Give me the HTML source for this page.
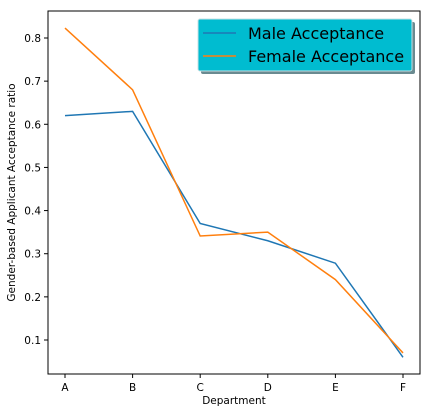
<!DOCTYPE html>
<html><head><meta charset="utf-8"><style>
html,body{margin:0;padding:0;background:#fff;}
svg{display:block;font-family:"DejaVu Sans","Liberation Sans",sans-serif;}
</style></head><body>
<svg id="chart" width="431" height="414" viewBox="0 0 431 414"></svg>
<script>
const categories=["A","B","C","D","E","F"];
const maleValues=[0.62,0.63,0.37,0.33,0.278,0.06];
const femaleValues=[0.823,0.68,0.341,0.35,0.24,0.07];
const yTicks=[0.1,0.2,0.3,0.4,0.5,0.6,0.7,0.8];
const yTickLabels=["0.1","0.2","0.3","0.4","0.5","0.6","0.7","0.8"];
const NS="http://www.w3.org/2000/svg";
const svg=document.getElementById('chart');
const L=48,R=420,T=11,B=374;
function x(i){return 65+i*(403-65)/(categories.length-1);}
function y(v){return 340-(v-0.1)*(340-38)/0.7;}
function mk(t,a,p){const e=document.createElementNS(NS,t);for(const k in a)e.setAttribute(k,a[k]);(p||svg).appendChild(e);return e;}
const frame=mk('rect',{x:L,y:T,width:R-L,height:B-T,fill:'none',stroke:'#000','stroke-width':1});


yTicks.forEach((v,i)=>{
  const tk=mk('line',{x1:L-4,x2:L,y1:y(v),y2:y(v),stroke:'#000'});
  
  
  const t=mk('text',{x:L-7,y:y(v)+4,'text-anchor':'end','font-size':10.5,fill:'#000'});
  t.textContent=yTickLabels[i];
  
  
});
categories.forEach((c,i)=>{
  const tk=mk('line',{x1:x(i),x2:x(i),y1:B,y2:B+4,stroke:'#000'});
  
  
  const t=mk('text',{x:x(i),y:B+17,'text-anchor':'middle','font-size':10.5,fill:'#000'});
  t.textContent=c;
  
  
});
function series(vals,color,name){
  const p=mk('polyline',{points:vals.map((v,i)=>x(i)+','+y(v)).join(' '),fill:'none',stroke:color,'stroke-width':1.5});
  
  
}
series(maleValues,'#1f77b4','male-acceptance-line');
series(femaleValues,'#ff7f0e','female-acceptance-line');
const xt=mk('text',{x:(L+R)/2,y:404,'text-anchor':'middle','font-size':10.5});
xt.textContent='Department';


const yt=mk('text',{x:0,y:0,'text-anchor':'middle','font-size':10.5,transform:'translate(15,'+((T+B)/2)+') rotate(-90)'});
yt.textContent='Gender-based Applicant Acceptance ratio';


const lg=mk('g',{});


mk('rect',{x:201,y:22,width:214,height:52,rx:2,fill:'#6a8a90'},lg);
mk('rect',{x:198,y:19,width:214,height:52,rx:2,fill:'#00bcd0',stroke:'#c8e0e4','stroke-width':1},lg);
[['Male Acceptance','#1f77b4',43],['Female Acceptance','#ff7f0e',66]].forEach(([n,c,yy])=>{
  const li=mk('line',{x1:203,x2:236,y1:yy-10,y2:yy-10,stroke:c,'stroke-width':1.5},lg);
  
  
  const t=mk('text',{x:248,y:yy-4,'font-size':16,fill:'#000'},lg);
  t.textContent=n;
  
  
});
</script>
</body></html>
